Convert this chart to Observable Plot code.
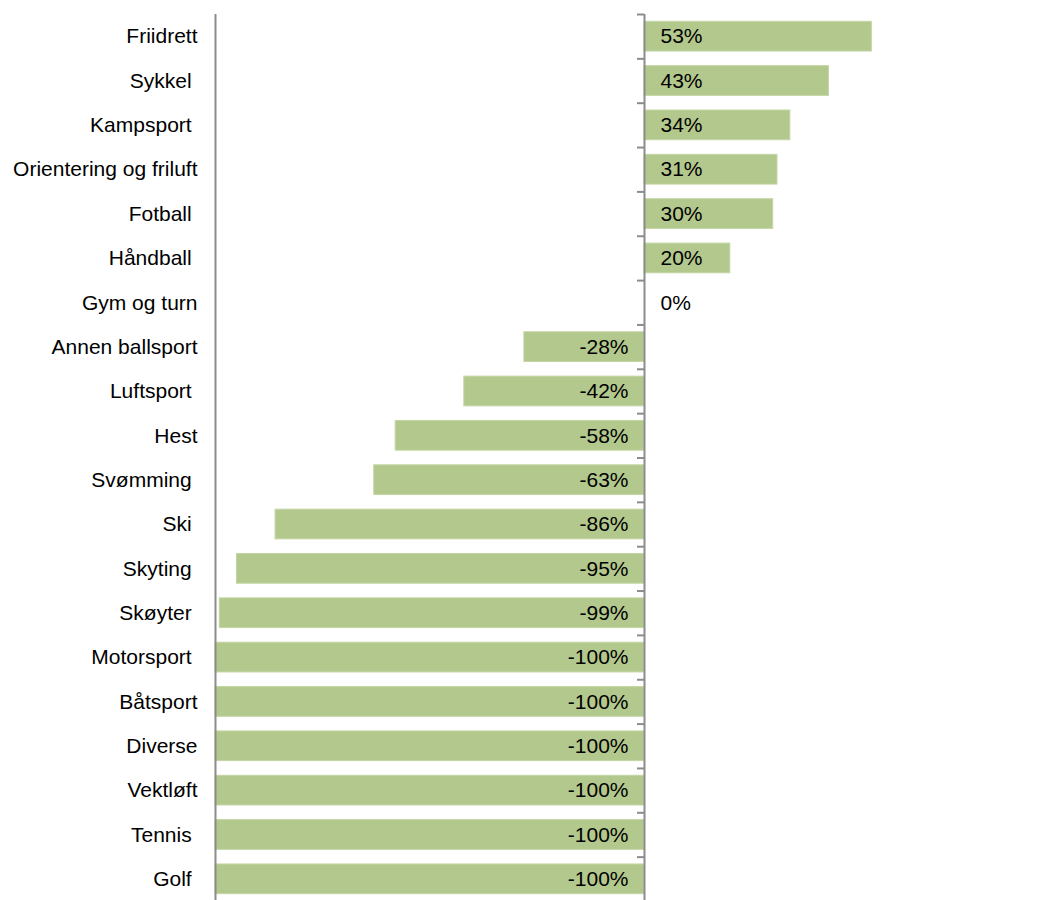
<!DOCTYPE html>
<html>
<head>
<meta charset="utf-8">
<script src="https://cdn.jsdelivr.net/npm/d3@7"></script>
<script src="https://cdn.jsdelivr.net/npm/@observablehq/plot@0.6"></script>
<style>
  html, body { margin: 0; padding: 0; background: #fff; }
  svg { display: block; }
</style>
</head>
<body>
<div id="chart"></div>
<script>
const categories = ["Friidrett", "Sykkel\u00a0", "Kampsport\u00a0", "Orientering og friluft", "Fotball\u00a0", "Håndball\u00a0", "Gym og turn", "Annen ballsport", "Luftsport\u00a0", "Hest", "Svømming\u00a0", "Ski\u00a0", "Skyting\u00a0", "Skøyter\u00a0", "Motorsport\u00a0", "Båtsport", "Diverse", "Vektløft", "Tennis\u00a0", "Golf\u00a0"];
const values = [0.53, 0.43, 0.34, 0.31, 0.30, 0.20, 0.00, -0.28, -0.42, -0.58, -0.63, -0.86, -0.95, -0.99, -1.00, -1.00, -1.00, -1.00, -1.00, -1.00];
const valueLabels = ["53%", "43%", "34%", "31%", "30%", "20%", "0%", "-28%", "-42%", "-58%", "-63%", "-86%", "-95%", "-99%", "-100%", "-100%", "-100%", "-100%", "-100%", "-100%"];

const data = categories.map((c, i) => ({cat: c, value: values[i], label: valueLabels[i]}));

const chartW = 1061, chartH = 901, chartTop = 14;
const bandStep = (chartH - chartTop) / categories.length;

const chart = Plot.plot({
  width: chartW,
  height: chartH,
  marginTop: chartTop,
  marginBottom: 0,
  marginLeft: 215,
  marginRight: 0,
  style: {fontFamily: "Liberation Sans, Arial, sans-serif", fontSize: "21px", color: "#000", background: "#fff"},
  x: {domain: [-1, 1], range: [215, 1073], axis: null},
  y: {domain: categories, paddingInner: 0.33, paddingOuter: 0.165, align: 0.5, round: false, label: null},
  marks: [
    Plot.barX(data, {y: "cat", x1: 0, x2: "value", fill: "#b3c88d", stroke: "#c4d6a4", strokeWidth: 1}),
    Plot.ruleX([-1], {stroke: "#8c8c8c", strokeWidth: 2}),
    Plot.ruleX([0], {stroke: "#8c8c8c", strokeWidth: 2}),
    Plot.ruleY(categories, {y: d => d, x1: -0.0163, x2: 0, dy: -bandStep / 2, stroke: "#8c8c8c", strokeWidth: 2}),
    Plot.text(data.filter(d => d.value >= 0), {y: "cat", x: 0, text: "label", dx: 16, textAnchor: "start", fill: "#000", fontSize: 21}),
    Plot.text(data.filter(d => d.value < 0), {y: "cat", x: 0, text: "label", dx: -16, textAnchor: "end", fill: "#000", fontSize: 21}),
    Plot.axisY({anchor: "left", tickSize: 0, tickPadding: 18, fontSize: 21, label: null, fill: "#000"})
  ]
});
document.getElementById("chart").appendChild(chart);
</script>
</body>
</html>
